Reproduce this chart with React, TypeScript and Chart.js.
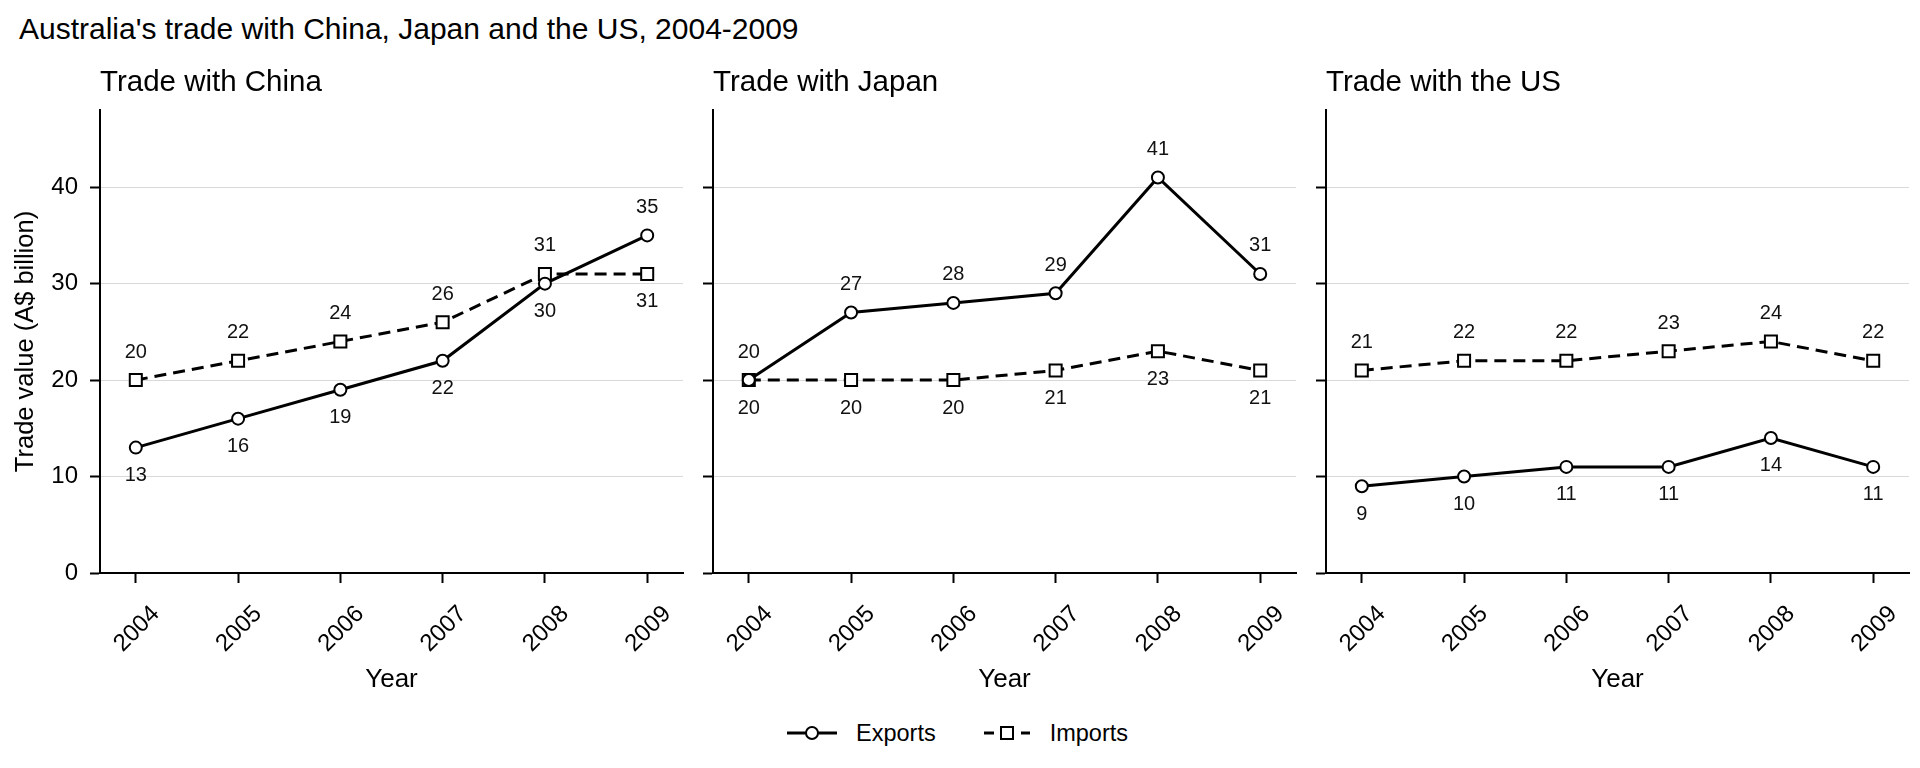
import React, { useEffect, useRef } from 'react';
import { Chart, registerables } from 'chart.js';

Chart.register(...registerables);

const FONT = '"Liberation Sans", Arial, Helvetica, sans-serif';

const mainTitle = "Australia's trade with China, Japan and the US, 2004-2009";
const panelTitles = ['Trade with China', 'Trade with Japan', 'Trade with the US'];
const seriesNames = ['Exports', 'Imports'];
const xTitle = 'Year';
const yTitle = 'Trade value (A$ billion)';

const years = [2004, 2005, 2006, 2007, 2008, 2009];
const yTicks = [0, 10, 20, 30, 40];

const chinaExports = [13, 16, 19, 22, 30, 35];
const chinaImports = [20, 22, 24, 26, 31, 31];
const japanExports = [20, 27, 28, 29, 41, 31];
const japanImports = [20, 20, 20, 21, 23, 21];
const usExports = [9, 10, 11, 11, 14, 11];
const usImports = [21, 22, 22, 23, 24, 22];

const panelExports = [chinaExports, japanExports, usExports];
const panelImports = [chinaImports, japanImports, usImports];

const labelPlugin = {
  id: 'pointValueLabels',
  afterDatasetsDraw(chart: any) {
    const ctx = chart.ctx;
    const ds = chart.data.datasets;
    ctx.save();
    ctx.font = `20px ${FONT}`;
    ctx.fillStyle = '#111';
    ctx.textAlign = 'center';
    ctx.textBaseline = 'middle';
    ds.forEach((d: any, i: number) => {
      const meta = chart.getDatasetMeta(i);
      const other = ds[1 - i];
      meta.data.forEach((pt: any, j: number) => {
        const v = d.data[j].y;
        const o = other.data[j].y;
        const above = v > o || (v === o && i === 0);
        ctx.fillText(String(v), pt.x, pt.y + (above ? -28 : 28));
      });
    });
    ctx.restore();
  },
};

function Panel(props: { idx: number; left: number }) {
  const ref = useRef<HTMLCanvasElement | null>(null);
  const { idx, left } = props;
  const showY = idx === 0;
  useEffect(() => {
    if (!ref.current) return;
    const exp = panelExports[idx];
    const imp = panelImports[idx];
    const chart = new Chart(ref.current, {
      type: 'line',
      data: {
        datasets: [
          {
            label: seriesNames[0],
            data: years.map((y, i) => ({ x: y, y: exp[i] })),
            borderColor: '#000',
            borderWidth: 3,
            pointStyle: 'circle',
            pointRadius: 6,
            pointBorderWidth: 2,
            pointBackgroundColor: '#fff',
            pointBorderColor: '#000',
            tension: 0,
          },
          {
            label: seriesNames[1],
            data: years.map((y, i) => ({ x: y, y: imp[i] })),
            borderColor: '#000',
            borderWidth: 3,
            borderDash: [12, 7],
            pointStyle: 'rect',
            pointRadius: 8.5,
            pointBorderWidth: 2,
            pointBackgroundColor: '#fff',
            pointBorderColor: '#000',
            tension: 0,
          },
        ],
      },
      options: {
        animation: false,
        responsive: false,
        devicePixelRatio: 1,
        layout: { padding: { left: 0, right: 11, top: 0, bottom: 0 } },
        plugins: {
          legend: { display: false },
          tooltip: { enabled: false },
          title: {
            display: true,
            text: panelTitles[idx],
            align: 'start',
            fullSize: false,
            color: '#000',
            font: { family: FONT, size: 29.5, weight: 'normal' },
            padding: { top: 24.8, bottom: 9.8 },
          },
        },
        scales: {
          x: {
            type: 'linear',
            min: 2003.65,
            max: 2009.35,
            afterBuildTicks: (s: any) => {
              s.ticks = years.map((v) => ({ value: v }));
            },
            afterFit: (s: any) => {
              s.height = 130;
            },
            ticks: {
              autoSkip: false,
              maxRotation: 45,
              minRotation: 45,
              labelOffset: 20,
              padding: 17,
              color: '#000',
              font: { family: FONT, size: 24 },
              callback: (v: any) => String(v),
            },
            grid: {
              drawOnChartArea: false,
              drawTicks: true,
              tickLength: 10,
              tickColor: '#000',
              tickWidth: 2,
            },
            border: { display: true, color: '#000', width: 2 },
            title: {
              display: true,
              text: xTitle,
              color: '#000',
              font: { family: FONT, size: 26 },
              padding: { top: 0, bottom: 7.4 },
            },
          },
          y: {
            type: 'linear',
            min: 0,
            max: 48,
            afterBuildTicks: (s: any) => {
              s.ticks = yTicks.map((v) => ({ value: v }));
            },
            afterFit: (s: any) => {
              s.width = 100;
            },
            ticks: {
              display: showY,
              padding: 12,
              color: '#000',
              font: { family: FONT, size: 24 },
              callback: (v: any) => String(v),
            },
            grid: {
              color: (c: any) => (c.tick && c.tick.value === 0 ? 'rgba(0,0,0,0)' : '#d9d9d9'),
              lineWidth: 1,
              drawTicks: true,
              tickLength: 10,
              tickColor: '#000',
              tickWidth: 2,
            },
            border: { display: true, color: '#000', width: 2 },
            title: {
              display: showY,
              text: yTitle,
              color: '#000',
              font: { family: FONT, size: 25.5 },
              padding: { top: 10.7, bottom: 0 },
            },
          },
        },
      },
      plugins: [labelPlugin],
    } as any);
    return () => chart.destroy();
  }, [idx]);
  return (
    <canvas
      ref={ref}
      width={694}
      height={663}
      style={{ position: 'absolute', left, top: 40, width: 694, height: 663 }}
    />
  );
}

function LegendExports() {
  return (
    <svg width={50} height={20} style={{ display: 'block' }}>
      <line x1={0} y1={10} x2={50} y2={10} stroke="#000" strokeWidth={3} />
      <circle cx={25} cy={10} r={6} fill="#fff" stroke="#000" strokeWidth={2} />
    </svg>
  );
}

function LegendImports() {
  return (
    <svg width={46} height={20} style={{ display: 'block' }}>
      <line x1={0} y1={10} x2={10} y2={10} stroke="#000" strokeWidth={3} />
      <rect x={17} y={4} width={12} height={12} fill="#fff" stroke="#000" strokeWidth={2} />
      <line x1={37} y1={10} x2={46} y2={10} stroke="#000" strokeWidth={3} />
    </svg>
  );
}

export default function App() {
  return (
    <div
      style={{
        position: 'absolute',
        left: 0,
        top: 0,
        width: 1920,
        height: 768,
        background: '#fff',
        overflow: 'hidden',
        fontFamily: FONT,
        color: '#000',
      }}
    >
      <div style={{ position: 'absolute', left: 19, top: 14, fontSize: 30, lineHeight: '30px', whiteSpace: 'nowrap' }}>
        {mainTitle}
      </div>
      <Panel idx={0} left={0} />
      <Panel idx={1} left={613} />
      <Panel idx={2} left={1226} />
      <div
        style={{
          position: 'absolute',
          left: 787,
          top: 719,
          height: 28,
          display: 'flex',
          alignItems: 'center',
          fontSize: 23.5,
          whiteSpace: 'nowrap',
        }}
      >
        <LegendExports />
        <span style={{ marginLeft: 19 }}>{seriesNames[0]}</span>
        <span style={{ width: 48 }} />
        <LegendImports />
        <span style={{ marginLeft: 20 }}>{seriesNames[1]}</span>
      </div>
    </div>
  );
}
